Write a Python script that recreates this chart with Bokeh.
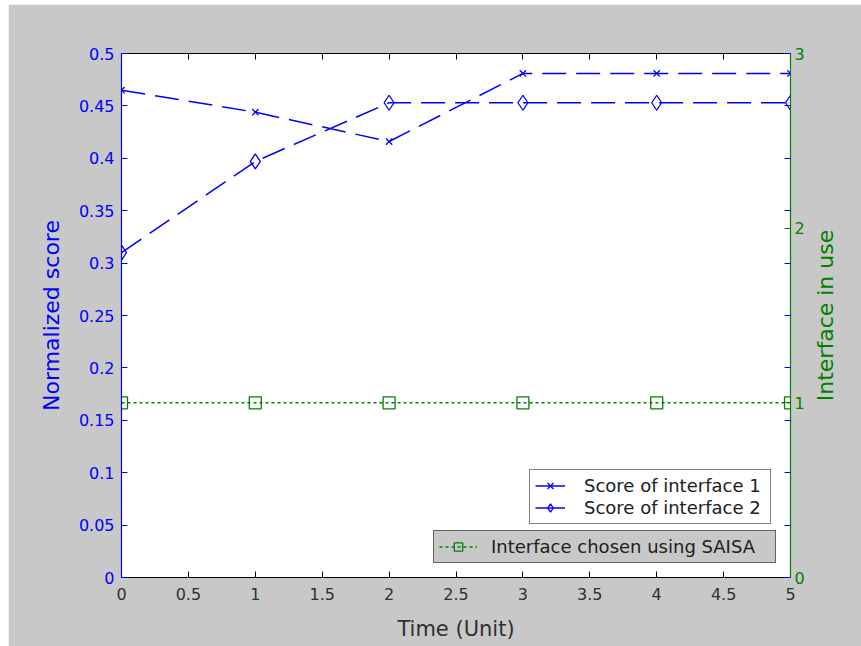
import math
from bokeh.plotting import figure
from bokeh.models import (Range1d, LinearAxis, FixedTicker, Legend, LegendItem, Label)
from bokeh.embed import file_html
from bokeh.resources import INLINE

# ---- data ----
time = [0, 1, 2, 3, 4, 5]
score_interface_1 = [0.465, 0.444, 0.416, 0.481, 0.481, 0.481]
score_interface_2 = [0.310, 0.397, 0.453, 0.453, 0.453, 0.453]
interface_chosen = [1, 1, 1, 1, 1, 1]

x_ticks = [0, 0.5, 1, 1.5, 2, 2.5, 3, 3.5, 4, 4.5, 5]
x_tick_labels = ["0", "0.5", "1", "1.5", "2", "2.5", "3", "3.5", "4", "4.5", "5"]
y_ticks = [0, 0.05, 0.1, 0.15, 0.2, 0.25, 0.3, 0.35, 0.4, 0.45, 0.5]
y_tick_labels = ["0", "0.05", "0.1", "0.15", "0.2", "0.25", "0.3", "0.35", "0.4", "0.45", "0.5"]
right_ticks = [0, 1, 2, 3]
right_tick_labels = ["0", "1", "2", "3"]

BLUE = "#0000ff"
GREEN = "#008000"
GREY_BG = "#c8c8c8"
DARK = "#303030"
FONT = "DejaVu Sans"

p = figure(width=853, height=642,
           min_border_left=113, min_border_right=71,
           min_border_top=49, min_border_bottom=69,
           x_range=Range1d(0, 5), y_range=Range1d(0, 0.5),
           output_backend="svg", toolbar_location=None,
           x_axis_location=None, y_axis_location=None)
p.margin = (4, 0, 0, 8)
p.background_fill_color = "white"
p.border_fill_color = GREY_BG
p.outline_line_color = None
p.xgrid.visible = False
p.ygrid.visible = False
p.extra_y_ranges = {"right": Range1d(0, 3)}

def style_axis(ax, color, label_color=None):
    ax.axis_line_color = color
    ax.axis_line_width = 1.2
    ax.major_tick_line_color = color
    ax.major_tick_in = 6
    ax.major_tick_out = 0
    ax.minor_tick_line_color = None
    ax.major_label_text_color = label_color or color
    ax.major_label_text_font = FONT
    ax.major_label_text_font_size = "16px"
    ax.axis_label_text_font = FONT
    ax.axis_label_text_font_style = "normal"
    ax.axis_label_text_font_size = "22px"
    ax.axis_label_text_color = label_color or color

# bottom axis
xa = LinearAxis(ticker=FixedTicker(ticks=x_ticks), axis_label="Time (Unit)")
style_axis(xa, "black", DARK)
xa.axis_label_text_font_size = "21px"
xa.major_label_overrides = dict(zip(x_ticks, x_tick_labels))
xa.major_label_standoff = 10
xa.axis_label_standoff = 14
p.add_layout(xa, "below")

# top axis (ticks only)
ta = LinearAxis(ticker=FixedTicker(ticks=x_ticks))
style_axis(ta, "black")
ta.major_label_text_font_size = "0px"
ta.major_label_standoff = 0
p.add_layout(ta, "above")

# left axis
ya = LinearAxis(ticker=FixedTicker(ticks=y_ticks), axis_label="Normalized score")
style_axis(ya, BLUE)
ya.major_label_overrides = dict(zip(y_ticks, y_tick_labels))
ya.major_label_standoff = 7
ya.axis_label_standoff = 12
p.add_layout(ya, "left")

# right axis (green major ticks, blue mirrored ticks of left axis as minor)
mirror = [v * 6 for v in y_ticks]
ra = LinearAxis(y_range_name="right",
                ticker=FixedTicker(ticks=right_ticks, minor_ticks=mirror))
style_axis(ra, GREEN)
ra.minor_tick_line_color = BLUE
ra.minor_tick_in = 6
ra.minor_tick_out = 0
ra.major_label_overrides = dict(zip(right_ticks, right_tick_labels))
ra.major_label_standoff = 4
p.add_layout(ra, "right")

# right axis title, reading bottom-to-top as in the reference
right_title = Label(x=5, y=1.5, y_range_name="right", x_offset=35,
                    text="Interface in use", angle=math.pi / 2,
                    text_align="center", text_baseline="middle",
                    text_font=FONT, text_font_size="22px", text_color=GREEN)
p.add_layout(right_title, "right")

# series
l1 = p.line(time, score_interface_1, line_color=BLUE, line_width=1.5, line_dash="24 10")
m1 = p.scatter(time, score_interface_1, marker="x", size=9, line_color=BLUE, line_width=1.3)
l2 = p.line(time, score_interface_2, line_color=BLUE, line_width=1.5, line_dash="24 10")
m2 = p.scatter(time, score_interface_2, marker="diamond", size=15, line_color=BLUE,
               fill_color=None, line_width=1.3)
l3 = p.line(time, interface_chosen, y_range_name="right", line_color=GREEN,
            line_width=1.5, line_dash="3 3")
m3 = p.scatter(time, interface_chosen, y_range_name="right", marker="square", size=12,
               line_color=GREEN, fill_color=None, line_width=1.3)

# legend-only sample lines (solid, as drawn in the reference legend); not-a-number data draws nothing
g1 = p.line([math.nan], [math.nan], line_color=BLUE, line_width=1.5)
g2 = p.line([math.nan], [math.nan], line_color=BLUE, line_width=1.5)

def style_legend(lg, bg):
    lg.background_fill_color = bg
    lg.background_fill_alpha = 1
    lg.border_line_color = "black"
    lg.border_line_width = 1.2
    lg.label_text_font = FONT
    lg.label_text_font_size = "18px"
    lg.label_text_color = "#202020"
    lg.label_height = 21
    lg.glyph_height = 21
    lg.spacing = 1
    lg.padding = 5
    lg.margin = 0

leg1 = Legend(items=[LegendItem(label="Score of interface 1", renderers=[g1, m1]),
                     LegendItem(label="Score of interface 2", renderers=[g2, m2])],
              location=(408, 53))
style_legend(leg1, "white")
leg1.glyph_width = 30
leg1.label_standoff = 19
leg1.label_width = 181
p.add_layout(leg1)

leg2 = Legend(items=[LegendItem(label="Interface chosen using SAISA", renderers=[l3, m3])],
              location=(312, 14))
style_legend(leg2, GREY_BG)
leg2.glyph_width = 38
leg2.label_standoff = 14
leg2.label_width = 279
p.add_layout(leg2)

open("out.html", "w").write(file_html(p, INLINE))
